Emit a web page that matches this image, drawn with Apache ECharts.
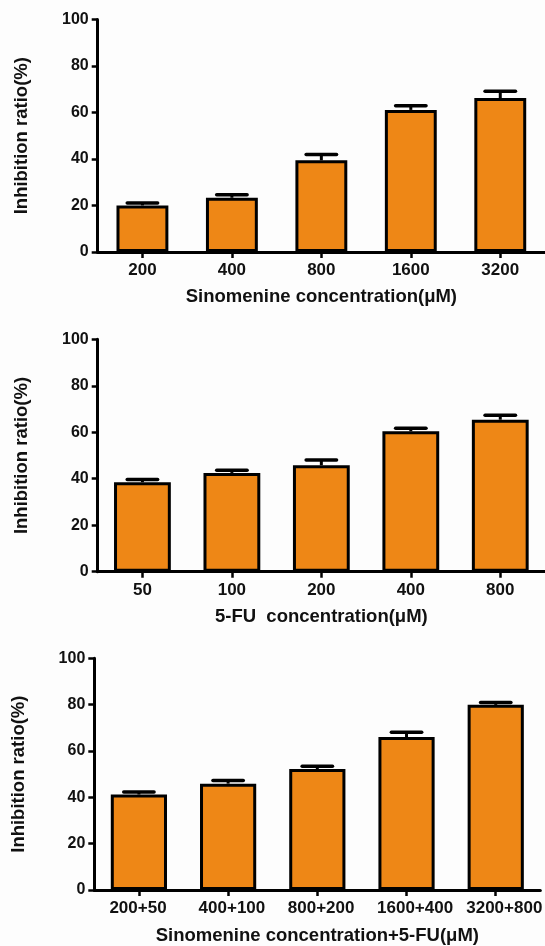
<!DOCTYPE html>
<html>
<head>
<meta charset="utf-8">
<script src="https://cdn.jsdelivr.net/npm/echarts@6/dist/echarts.min.js"></script>
<style>
html, body { margin: 0; padding: 0; background: #fdfdfd; }
#chart { width: 545px; height: 946px; }
</style>
</head>
<body>
<div id="chart"></div>
<script>
// 数据
const sinoCats = ['200', '400', '800', '1600', '3200']
const sinoValues = [20.0, 23.3, 39.4, 61.1, 66.2]
const sinoErrors = [1.0, 1.3, 2.5, 1.8, 2.9]

const fuCats = ['50', '100', '200', '400', '800']
const fuValues = [38.5, 42.5, 45.8, 60.4, 65.4]
const fuErrors = [1.2, 1.1, 2.3, 1.3, 1.9]

const comboCats = ['200+50', '400+100', '800+200', '1600+400', '3200+800']
const comboValues = [41.2, 45.9, 52.2, 66.0, 79.9]
const comboErrors = [1.1, 1.4, 1.2, 2.1, 1.0]

const xTitles = ['Sinomenine concentration(μM)', '5-FU  concentration(μM)', 'Sinomenine concentration+5-FU(μM)']
const yTitle = 'Inhibition ratio(%)'

const FONT = "'Liberation Sans', Arial, sans-serif"
const BAR_COLOR = '#ee8716'

const panels = [
	{ cats: sinoCats, values: sinoValues, errors: sinoErrors, left: 97.7, top: 19.5, barWidth: '58%', leftLabels: false },
	{ cats: fuCats, values: fuValues, errors: fuErrors, left: 97.7, top: 339.3, barWidth: '63.5%', leftLabels: false },
	{ cats: comboCats, values: comboValues, errors: comboErrors, left: 94.3, top: 658.3, barWidth: '63%', leftLabels: true }
]

// 误差线
const renderError = (params, api) => {
	const idx = api.value(0)
	const val = api.value(1)
	const top = api.coord([idx, val])
	const cap = api.coord([idx, val + api.value(2)])
	const half = api.size([1, 0])[0] * 0.17
	return {
		type: 'group',
		children: [
			{ type: 'line', shape: { x1: top[0], y1: top[1], x2: cap[0], y2: cap[1] }, style: { stroke: '#000', lineWidth: 3 } },
			{ type: 'line', shape: { x1: cap[0] - half, y1: cap[1], x2: cap[0] + half, y2: cap[1] }, style: { stroke: '#000', lineWidth: 3.5, lineCap: 'round' } }
		]
	}
}

const axisLine = { show: true, lineStyle: { color: '#000', width: 3 } }
const axisTick = { show: true, length: 6, lineStyle: { color: '#000', width: 2.5 } }

const option = {
	backgroundColor: '#fdfdfd',
	animation: false,
	grid: [],
	xAxis: [],
	yAxis: [],
	series: []
}

panels.forEach((p, i) => {
	const xLabel = { color: '#111', fontFamily: FONT, fontWeight: 'bold', fontSize: 17, margin: 10, interval: 0 }
	if (p.leftLabels) {
		// 第三幅图的刻度标签左对齐
		xLabel.width = 59
		xLabel.formatter = (v) => '{a|' + v + '}'
		xLabel.rich = { a: { align: 'left', color: '#111', fontFamily: FONT, fontWeight: 'bold', fontSize: 17 } }
	}
	option.grid.push({ left: p.left, top: p.top, width: 449.5, height: 232.4 })
	option.xAxis.push({
		type: 'category',
		gridIndex: i,
		data: p.cats,
		axisLine: axisLine,
		axisTick: Object.assign({ alignWithLabel: true }, axisTick),
		axisLabel: xLabel,
		name: xTitles[i],
		nameLocation: 'middle',
		nameGap: 36,
		nameTextStyle: { color: '#111', fontFamily: FONT, fontWeight: 'bold', fontSize: 18.5 }
	})
	option.yAxis.push({
		type: 'value',
		gridIndex: i,
		min: 0,
		max: 100,
		interval: 20,
		splitLine: { show: false },
		axisLine: axisLine,
		axisTick: axisTick,
		axisLabel: { color: '#111', fontFamily: FONT, fontWeight: 'bold', fontSize: 16, margin: 9 },
		name: yTitle,
		nameLocation: 'middle',
		nameGap: 66,
		nameRotate: 90,
		nameTextStyle: { color: '#111', fontFamily: FONT, fontWeight: 'bold', fontSize: 18.5 }
	})
	option.series.push({
		type: 'bar',
		xAxisIndex: i,
		yAxisIndex: i,
		data: p.values,
		barWidth: p.barWidth,
		itemStyle: { color: BAR_COLOR, borderColor: '#000', borderWidth: 3 },
		z: 2
	})
	option.series.push({
		type: 'custom',
		xAxisIndex: i,
		yAxisIndex: i,
		renderItem: renderError,
		encode: { x: 0, y: 1 },
		data: p.values.map((v, k) => [k, v, p.errors[k]]),
		z: 3
	})
})

const myChart = echarts.init(document.getElementById('chart'))
option && myChart.setOption(option)
</script>
</body>
</html>
